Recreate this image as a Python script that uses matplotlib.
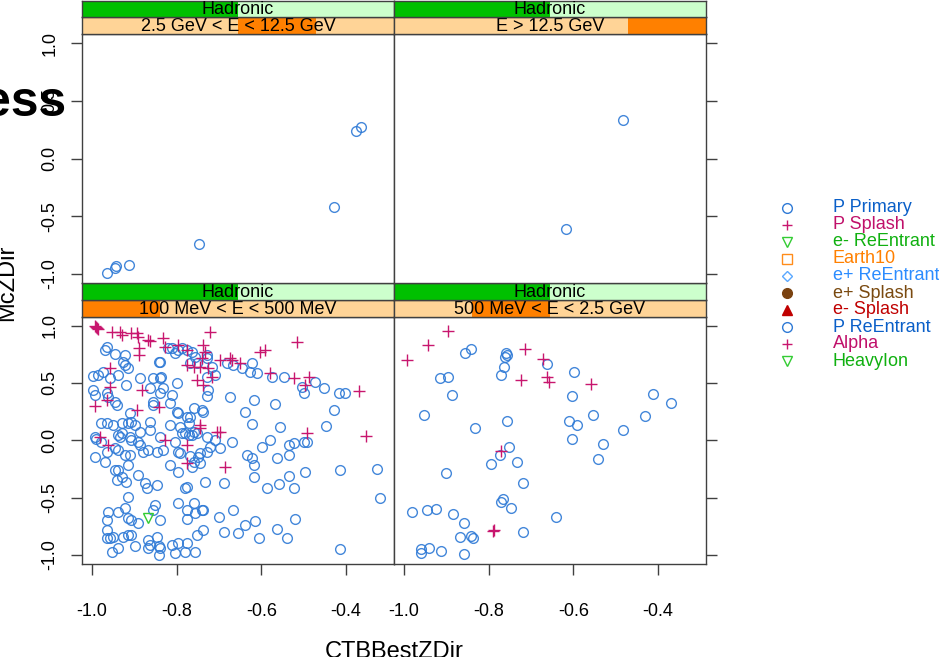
import matplotlib.pyplot as plt

plt.rcParams['font.family'] = ['Liberation Sans', 'DejaVu Sans']
plt.rcParams['axes.unicode_minus'] = False

# conditioning levels
type_level = 'Hadronic'
e_levels = ['100 MeV < E < 500 MeV', '500 MeV < E < 2.5 GeV',
            '2.5 GeV < E < 12.5 GeV', 'E > 12.5 GeV']

# ---- 100 MeV < E < 500 MeV ----
lo_prim_x = [-0.970, -0.966, -0.946, -0.923, -0.820, -0.812, -0.804, -0.796, -0.788, -0.776, -0.764, -0.757, -0.729, -0.729,
             -0.926, -0.923, -0.915, -0.843, -0.840, -0.768, -0.753, -0.717, -0.681, -0.666, -0.646, -0.622, -0.626,
             -0.999, -0.986, -0.974, -0.958, -0.938, -0.887, -0.855, -0.840, -0.836, -0.729, -0.709, -0.610, -0.575, -0.547, -0.504, -0.472, -0.452, -0.417, -0.401, -0.500,
             -0.998, -0.994, -0.962, -0.966, -0.919, -0.863, -0.840, -0.812, -0.800, -0.832, -0.725, -0.729, -0.674, -0.618,
             -0.946, -0.942, -0.911, -0.855, -0.855, -0.816, -0.796, -0.800, -0.760, -0.737, -0.741, -0.776, -0.638, -0.567, -0.428,
             -0.978, -0.966, -0.950, -0.930, -0.915, -0.907, -0.899, -0.863, -0.816, -0.792, -0.772, -0.768, -0.622, -0.555, -0.448,
             -0.994, -0.990, -0.978, -0.938, -0.934, -0.930, -0.911, -0.891, -0.863, -0.887, -0.840, -0.804, -0.788, -0.780, -0.772, -0.764, -0.753, -0.760, -0.729, -0.709, -0.670, -0.579, -0.535, -0.523, -0.500, -0.492, -0.887, -0.907,
             -0.994, -0.970, -0.966, -0.946, -0.938, -0.923, -0.911, -0.879, -0.867, -0.847, -0.832, -0.796, -0.792, -0.745, -0.729, -0.721, -0.697, -0.634, -0.622, -0.598, -0.563, -0.535, -0.768, -0.749,
             -0.946, -0.938, -0.915, -0.816, -0.796, -0.760, -0.764, -0.745, -0.618, -0.496, -0.413, -0.326,
             -0.942, -0.930, -0.919, -0.891, -0.875, -0.871, -0.847, -0.915, -0.851, -0.776, -0.780, -0.733, -0.689, -0.618, -0.587, -0.559, -0.535, -0.523, -0.318,
             -0.962, -0.938, -0.923, -0.915, -0.907, -0.891, -0.840, -0.796, -0.776, -0.776, -0.760, -0.757, -0.741, -0.737, -0.701, -0.666, -0.638, -0.614, -0.519, -0.855, -0.966,
             -0.966, -0.958, -0.966, -0.950, -0.926, -0.915, -0.907, -0.899, -0.867, -0.863, -0.847, -0.843, -0.840, -0.843, -0.867, -0.812, -0.804, -0.796, -0.776, -0.757, -0.780, -0.753, -0.737, -0.689, -0.654, -0.606, -0.563, -0.539, -0.413, -0.954, -0.938]
lo_prim_y = [0.788, 0.817, 0.753, 0.744, 0.802, 0.802, 0.759, 0.788, 0.802, 0.788, 0.773, 0.730, 0.744, 0.715,
             0.686, 0.657, 0.628, 0.686, 0.686, 0.672, 0.672, 0.642, 0.672, 0.657, 0.628, 0.677, 0.599,
             0.561, 0.570, 0.599, 0.541, 0.570, 0.541, 0.541, 0.541, 0.555, 0.555, 0.570, 0.584, 0.555, 0.549, 0.468, 0.512, 0.453, 0.410, 0.410, 0.410,
             0.439, 0.395, 0.381, 0.410, 0.483, 0.453, 0.410, 0.395, 0.497, 0.453, 0.439, 0.387, 0.381, 0.352,
             0.337, 0.308, 0.235, 0.337, 0.308, 0.323, 0.235, 0.250, 0.279, 0.250, 0.265, 0.206, 0.250, 0.317, 0.265,
             0.148, 0.148, 0.134, 0.148, 0.148, 0.163, 0.134, 0.163, 0.134, 0.119, 0.148, 0.206, 0.142, 0.119, 0.125,
             0.032, 0.009, -0.012, 0.047, 0.032, 0.061, 0.032, -0.012, 0.090, 0.076, 0.032, -0.012, 0.067, 0.061, 0.047, 0.047, 0.061, 0.076, 0.032, 0.003, -0.017, 0.003, -0.041, -0.026, -0.012, -0.012, -0.041, 0.003,
             -0.142, -0.186, -0.099, -0.070, -0.084, -0.128, -0.128, -0.099, -0.084, -0.099, -0.084, -0.099, -0.113, -0.113, -0.099, -0.055, -0.070, -0.128, -0.157, -0.055, -0.157, -0.128, -0.134, -0.142,
             -0.259, -0.259, -0.215, -0.215, -0.273, -0.186, -0.230, -0.201, -0.215, -0.273, -0.259, -0.253,
             -0.346, -0.317, -0.360, -0.302, -0.375, -0.419, -0.390, -0.491, -0.564, -0.404, -0.419, -0.360, -0.369, -0.317, -0.419, -0.381, -0.311, -0.419, -0.500,
             -0.622, -0.622, -0.593, -0.680, -0.695, -0.724, -0.695, -0.549, -0.608, -0.689, -0.549, -0.637, -0.608, -0.608, -0.666, -0.608, -0.738, -0.709, -0.689, -0.608, -0.695,
             -0.782, -0.855, -0.855, -0.840, -0.840, -0.826, -0.826, -0.927, -0.869, -0.913, -0.840, -0.927, -0.942, -1.000, -0.942, -0.913, -0.985, -0.898, -0.898, -0.971, -0.971, -0.826, -0.782, -0.797, -0.811, -0.855, -0.776, -0.855, -0.951, -0.971, -0.942]
lo_splash_x = [-0.991, -0.994, -0.988, -0.986, -0.954, -0.934, -0.930, -0.909, -0.895, -0.891, -0.867, -0.863, -0.832, -0.828, -0.889,
               -0.889, -0.958, -0.957, -0.994, -0.966, -0.883, -0.895, -0.843, -0.796, -0.776, -0.737, -0.733, -0.721, -0.741, -0.776,
               -0.760, -0.745, -0.725, -0.717, -0.753, -0.737, -0.697, -0.674, -0.670, -0.650, -0.602, -0.591, -0.579, -0.523, -0.515,
               -0.496, -0.488, -0.369, -0.353, -0.492, -0.745, -0.745, -0.705, -0.697, -0.828, -0.776, -0.776, -0.685, -0.982, -0.962]
lo_splash_y = [0.991, 0.997, 0.977, 0.968, 0.948, 0.948, 0.919, 0.933, 0.933, 0.904, 0.875, 0.866, 0.890, 0.817, 0.802,
               0.744, 0.628, 0.468, 0.299, 0.352, 0.439, 0.265, 0.294, 0.831, 0.788, 0.831, 0.773, 0.948, 0.715, 0.657,
               0.642, 0.642, 0.628, 0.555, 0.526, 0.483, 0.701, 0.715, 0.701, 0.672, 0.773, 0.788, 0.584, 0.541, 0.860,
               0.483, 0.555, 0.430, 0.038, 0.067, 0.134, 0.105, 0.076, 0.076, 0.003, -0.041, -0.195, -0.230, 0.032, -0.041]
lo_reent_x = [-0.867]
lo_reent_y = [-0.680]

# ---- 500 MeV < E < 2.5 GeV ----
mid_prim_x = [-0.856, -0.843, -0.760, -0.756, -0.762, -0.662, -0.598, -0.763, -0.771, -0.916, -0.897, -0.886, -0.604,
              -0.953, -0.756, -0.833, -0.610, -0.590, -0.554, -0.483, -0.431, -0.411, -0.368, -0.604, -0.529, -0.541,
              -0.752, -0.774, -0.795, -0.732, -0.900, -0.718, -0.766, -0.771, -0.748, -0.981, -0.946, -0.925, -0.884,
              -0.859, -0.640, -0.720, -0.867, -0.842, -0.837, -0.961, -0.959, -0.941, -0.914, -0.859]
mid_prim_y = [0.765, 0.797, 0.765, 0.744, 0.730, 0.666, 0.599, 0.637, 0.573, 0.547, 0.549, 0.392, 0.387,
              0.221, 0.166, 0.108, 0.169, 0.131, 0.221, 0.087, 0.212, 0.404, 0.323, 0.009, -0.035, -0.166,
              -0.061, -0.128, -0.206, -0.192, -0.288, -0.375, -0.509, -0.535, -0.587, -0.628, -0.608, -0.596, -0.640,
              -0.718, -0.666, -0.797, -0.846, -0.834, -0.855, -0.951, -0.985, -0.936, -0.965, -0.991]
mid_splash_x = [-0.994, -0.943, -0.897, -0.715, -0.671, -0.663, -0.657, -0.724, -0.558, -0.770, -0.791, -0.788]
mid_splash_y = [0.701, 0.831, 0.956, 0.794, 0.706, 0.555, 0.512, 0.526, 0.491, -0.090, -0.788, -0.782]

# ---- 2.5 GeV < E < 12.5 GeV ----
hi_prim_x = [-0.964, -0.946, -0.943, -0.912, -0.747, -0.428, -0.376, -0.364]
hi_prim_y = [-0.995, -0.948, -0.936, -0.925, -0.738, -0.424, 0.238, 0.270]

# ---- E > 12.5 GeV ----
top_prim_x = [-0.482, -0.617]
top_prim_y = [0.331, -0.614]

legend_labels = ['P Primary', 'P Splash', 'e- ReEntrant', 'Earth10', 'e+ ReEntrant',
                 'e+ Splash', 'e- Splash', 'P ReEntrant', 'Alpha', 'HeavyIon']
legend_markers = ['o', '+', 'v', 's', 'D', 'o', '^', 'o', '+', 'v']
legend_filled = [False, False, False, False, False, True, True, False, False, False]
legend_mcol = ['#2f7ad6', '#c8166e', '#33cc33', '#ff8c1a', '#5aa8ff',
               '#7a4210', '#c00000', '#2f7ad6', '#c8166e', '#33cc33']
legend_tcol = ['#0a5fc8', '#c0106a', '#10b010', '#ff8000', '#2b8cff',
               '#7a4a10', '#c00000', '#0a5fc8', '#c0106a', '#10b010']

W, H = 939, 657
fig = plt.figure(figsize=(W / 100, H / 100), dpi=100)

frame_col = '#404040'
col_x = [(82, 394), (394, 706)]
row_y = [(316.5, 564), (34, 283)]  # bottom row, top row (px from top)
strip_h = 16.6

panels = [
    (0, 0, lo_prim_x, lo_prim_y, lo_splash_x, lo_splash_y, lo_reent_x, lo_reent_y),
    (0, 1, mid_prim_x, mid_prim_y, mid_splash_x, mid_splash_y, [], []),
    (1, 0, hi_prim_x, hi_prim_y, [], [], [], []),
    (1, 1, top_prim_x, top_prim_y, [], [], [], []),
]


def px_rect(x0, x1, ytop, ybot):
    return [x0 / W, (H - ybot) / H, (x1 - x0) / W, (ybot - ytop) / H]


for k, (r, c, px, py, sx, sy, tx, ty) in enumerate(panels):
    x0, x1 = col_x[c]
    ytop, ybot = row_y[r]
    ax = fig.add_axes(px_rect(x0, x1, ytop, ybot))
    ax.plot(px, py, 'o', ms=7, mfc='none', mec='#2f7ad6', mew=1.0, alpha=0.9)
    ax.plot(sx, sy, '+', ms=8, mec='#c8166e', mew=1.0)
    ax.plot(tx, ty, 'v', ms=7, mfc='none', mec='#33cc33', mew=1.0)
    ax.set_xlim(-1.024, -0.286)
    ax.set_ylim(-1.08, 1.08)
    ax.set_xticks([-1.0, -0.8, -0.6, -0.4])
    ax.set_yticks([-1.0, -0.5, 0.0, 0.5, 1.0])
    for s in ax.spines.values():
        s.set_color(frame_col)
        s.set_linewidth(1.0)
    ax.tick_params(colors=frame_col, labelcolor='black', labelsize=13, length=8, width=1)
    if c == 0:
        ax.tick_params(axis='y', left=True, right=False, labelleft=True, labelrotation=90, pad=9)
        for lab in ax.get_yticklabels():
            lab.set_va('center')
    else:
        ax.tick_params(axis='y', left=False, right=True, labelleft=False)
    if r == 0:
        ax.tick_params(axis='x', bottom=True, labelbottom=True, pad=20)
    else:
        ax.tick_params(axis='x', bottom=False, labelbottom=False)

    # strips: energy (lower) then type (upper)
    for j, (label, lo, hi, dark, light) in enumerate([
            (e_levels[k], k / 4, (k + 1) / 4, '#ff8000', '#ffd497'),
            (type_level, 0.0, 0.5, '#00c000', '#ccffcc')]):
        sb = ytop - j * strip_h
        sax = fig.add_axes(px_rect(x0, x1, sb - strip_h, sb))
        sax.set_facecolor(light)
        sax.axvspan(lo, hi, color=dark, lw=0)
        sax.set_xlim(0, 1)
        sax.set_ylim(0, 1)
        sax.set_xticks([])
        sax.set_yticks([])
        for s in sax.spines.values():
            s.set_color(frame_col)
            s.set_linewidth(1.0)
        sax.text(0.5, 0.45, label, ha='center', va='center', fontsize=13)

fig.text(394 / W, (H - 641) / H, 'CTBBestZDir', ha='center', va='top', fontsize=17)
fig.text(18 / W, (H - 283) / H, 'McZDir', rotation=90, ha='right', va='center', fontsize=17)
fig.text(66 / W, (H - 116) / H, 'ess', ha='right', va='baseline', fontsize=36, fontweight='bold')

# key
lax = fig.add_axes(px_rect(780, 939, 199.5, 369.5))
lax.set_xlim(0, 159)
lax.set_ylim(9.5, -0.5)
lax.axis('off')
for i, lab in enumerate(legend_labels):
    lax.plot([7], [i], legend_markers[i], ms=7 if legend_markers[i] != 'D' else 5.5,
             mfc=legend_mcol[i] if legend_filled[i] else 'none',
             mec=legend_mcol[i], mew=1.0, clip_on=False)
    lax.text(53, i, lab, color=legend_tcol[i], fontsize=13, va='center', ha='left', clip_on=False)

fig.savefig('out.png', dpi=100)
